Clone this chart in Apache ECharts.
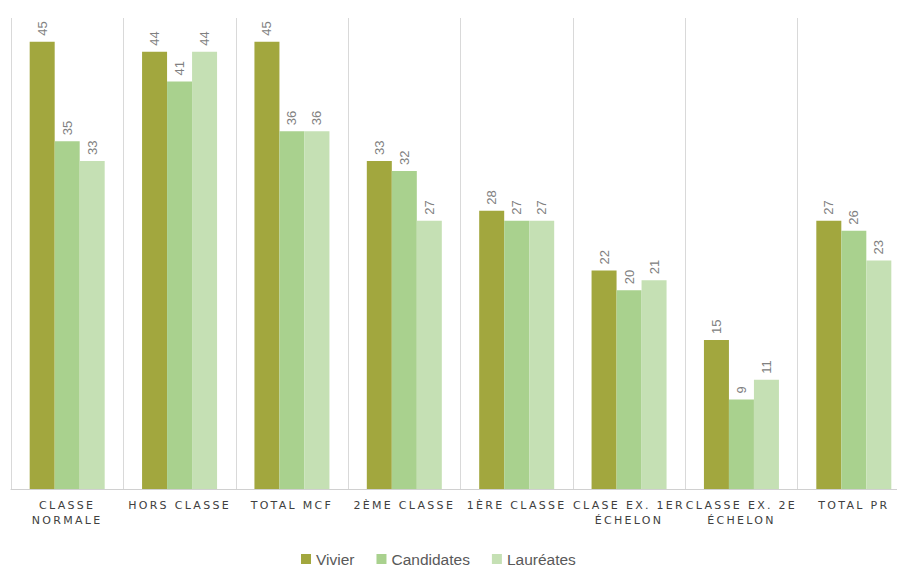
<!DOCTYPE html>
<html><head><meta charset="utf-8">
<script src="https://cdn.jsdelivr.net/npm/echarts@6/dist/echarts.min.js"></script>
<style>html,body{margin:0;padding:0;background:#fff;overflow:hidden;width:897px;height:572px}#c{width:910px;height:572px}</style>
</head><body><div id="c"></div>
<script>
const categories = ["CLASSE\nNORMALE","HORS CLASSE","TOTAL MCF","2ÈME CLASSE","1ÈRE CLASSE","CLASE EX. 1ER\nÉCHELON","CLASSE EX. 2E\nÉCHELON","TOTAL PR"];
const vivier = [45,44,45,33,28,22,15,27];
const candidates = [35,41,36,32,27,20,9,26];
const laureates = [33,44,36,27,27,21,11,23];
const seriesNames = ["Vivier","Candidates","Lauréates"];
const colors = ["#A2A73E","#A9D18E","#C5E0B4"];

const chart = echarts.init(document.getElementById('c'), null, {renderer:'svg'});
const lbl = {show:true, position:'top', rotate:90, align:'left', verticalAlign:'middle', distance:6, color:'#808080', fontSize:13, fontFamily:'Liberation Sans'};
chart.setOption({
  animation:false,
  grid:{left:11, top:18, right:0, bottom:83},
  legend:{top:549, left:296, itemWidth:10, itemHeight:10, itemGap:22, icon:'rect', padding:[2,5,2,5],
    textStyle:{color:'#595959', fontSize:15.5, fontFamily:'Liberation Sans'}},
  xAxis:{type:'category', data:categories,
    axisLine:{lineStyle:{color:'#d0d0d0', width:1}}, axisTick:{show:false},
    splitLine:{show:true, lineStyle:{color:'#d9d9d9', width:1}},
    axisLabel:{color:'#404040', fontSize:11, fontFamily:'DejaVu Sans', lineHeight:15, margin:9, interval:0}},
  yAxis:{type:'value', min:0, max:47.4, show:false, splitLine:{show:false}},
  series:[
    {name:seriesNames[0], type:'bar', data:vivier, barWidth:25, barGap:'0%', itemStyle:{color:colors[0]}, label:lbl},
    {name:seriesNames[1], type:'bar', data:candidates, barWidth:25, barGap:'0%', itemStyle:{color:colors[1]}, label:lbl},
    {name:seriesNames[2], type:'bar', data:laureates, barWidth:25, barGap:'0%', itemStyle:{color:colors[2]}, label:lbl}
  ]
});
const lines = new Set();
categories.forEach(c => c.split('\n').forEach(l => lines.add(l)));
document.querySelectorAll('#c svg text, #c svg tspan').forEach(t => {
  if (lines.has(t.textContent.trim())) t.style.letterSpacing = '2.3px';
});
</script></body></html>
